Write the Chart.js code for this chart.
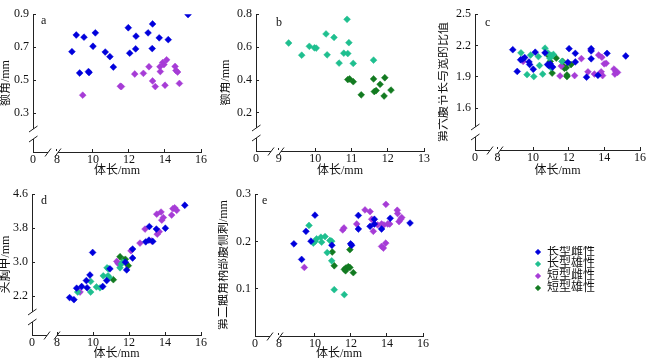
<!DOCTYPE html>
<html>
<head>
<meta charset="utf-8">
<script src="https://cdn.jsdelivr.net/npm/chart.js@4.4.0/dist/chart.umd.min.js"></script>
<style>
html, body { margin: 0; padding: 0; background: #fff; width: 650px; height: 363px; overflow: hidden; }
canvas { position: absolute; }
</style>
</head>
<body>
<canvas id="ca" width="215" height="180" style="left:0;top:0"></canvas>
<canvas id="cb" width="214" height="180" style="left:220px;top:0"></canvas>
<canvas id="cc" width="212" height="180" style="left:438px;top:0"></canvas>
<canvas id="cd" width="215" height="183" style="left:0;top:180px"></canvas>
<canvas id="ce" width="215" height="183" style="left:218px;top:180px"></canvas>
<canvas id="cl" width="100" height="117" style="left:535px;top:246px"></canvas>
<script>
// series names (legend)
const names = ['长型雌性', '长型雄性', '短型雌性', '短型雄性'];
const xTitle = '体长/mm';

// a: 额角 vs 体长
const aLongF = [[15.28,0.898],[9.07,0.774],[9.5,0.761],[10.13,0.787],[8.83,0.673],[10.0,0.706],[10.68,0.671],[10.94,0.643],[11.13,0.58],[9.26,0.544],[9.75,0.553],[9.78,0.547],[11.96,0.818],[12.39,0.767],[12.04,0.664],[12.37,0.69],[13.06,0.787],[13.31,0.841],[13.29,0.692],[13.68,0.757],[14.18,0.746]];
const aShortF = [[9.43,0.41],[11.52,0.464],[11.58,0.462],[12.32,0.538],[12.8,0.542],[13.11,0.582],[13.31,0.496],[13.46,0.462],[13.72,0.582],[13.74,0.553],[13.87,0.607],[13.94,0.595],[14.09,0.624],[14.0,0.47],[14.56,0.584],[14.61,0.559],[14.7,0.55],[14.8,0.481]];

// b: 额角 vs 体长 (males)
const bLongM = [[10.88,0.769],[9.27,0.625],[10.3,0.68],[10.52,0.659],[9.84,0.605],[9.98,0.596],[10.03,0.594],[10.93,0.627],[9.63,0.551],[10.33,0.553],[10.79,0.563],[10.9,0.561],[10.66,0.503],[11.05,0.501],[11.61,0.521]];
const bShortM = [[10.9,0.403],[10.95,0.407],[11.05,0.39],[11.27,0.31],[11.61,0.407],[11.92,0.414],[11.79,0.374],[11.63,0.33],[11.68,0.336],[12.09,0.339],[11.9,0.303]];

// c: 第六腹节长与宽的比值
const cLongF = [[8.86,2.16],[9.11,1.952],[9.3,2.064],[9.42,2.07],[9.53,2.085],[9.77,2.043],[9.81,2.018],[10.01,1.973],[10.12,2.136],[10.67,2.13],[10.81,2.018],[10.89,2.009],[10.96,2.025],[11.1,1.994],[12.02,2.17],[11.95,2.039],[12.37,2.125],[12.37,2.043],[13.0,1.897],[13.26,2.17],[13.26,2.148],[13.26,2.073],[13.64,1.915],[14.15,2.125],[15.2,2.1]];
const cLongM = [[9.32,2.13],[9.66,1.921],[9.86,2.109],[10.04,1.903],[10.3,2.094],[10.36,2.009],[10.54,1.927],[10.67,2.175],[10.83,2.13],[10.94,2.079],[11.03,2.103],[11.0,1.988],[11.14,2.115],[11.62,2.048]];
const cShortF = [[9.44,2.048],[11.58,2.003],[11.51,1.909],[12.33,1.912],[12.71,2.075],[13.08,1.948],[13.25,2.16],[13.44,1.927],[13.68,2.109],[13.86,2.088],[13.77,1.933],[13.82,1.948],[13.9,1.912],[13.99,2.025],[14.1,2.03],[14.54,1.975],[14.65,1.948],[14.74,1.943],[14.59,1.927]];
const cShortM = [[10.89,2.1],[10.96,2.048],[11.07,1.936],[11.3,2.079],[11.66,2.048],[11.73,1.997],[11.76,1.982],[11.86,1.988],[11.9,1.918],[11.9,1.903],[12.13,2.018]];

// d: 头胸甲
const dLongF = [[8.7,2.17],[8.94,2.12],[9.09,2.39],[9.37,2.43],[9.67,2.4],[9.63,2.57],[9.83,2.7],[9.98,3.23],[10.54,2.43],[10.76,2.57],[10.94,2.845],[11.87,2.82],[11.8,3.0],[12.2,3.1],[12.2,3.31],[12.93,3.48],[13.11,3.52],[13.32,3.49],[13.13,3.84],[13.52,3.78],[14.02,3.8],[15.1,4.34]];
const dLongM = [[9.15,2.3],[9.87,2.3],[9.87,2.55],[10.19,2.42],[10.39,2.4],[10.57,2.68],[10.78,2.87],[10.85,2.845],[10.83,2.68],[10.9,2.65],[11.5,2.87],[11.57,2.96],[11.65,3.0]];
const dShortF = [[9.28,2.3],[11.32,3.02],[11.4,2.97],[12.11,3.27],[12.61,3.45],[12.89,3.78],[13.26,3.5],[13.54,4.13],[13.78,4.18],[13.82,3.99],[13.91,4.05],[13.57,3.66],[13.68,3.72],[14.37,4.11],[14.44,4.26],[14.54,4.28],[14.65,4.22]];
const dShortM = [[11.13,2.59],[11.5,3.13],[11.72,3.055],[11.8,3.07],[11.96,2.92]];

// e: 第二触角柄部腹侧刺
const eLongF = [[8.83,0.195],[9.26,0.162],[9.5,0.2215],[9.78,0.2007],[10.0,0.2556],[10.94,0.192],[11.98,0.195],[12.04,0.192],[12.41,0.255],[12.41,0.2264],[13.06,0.232],[13.3,0.247],[13.3,0.237],[13.7,0.2264],[14.18,0.249],[15.28,0.239]];
const eLongM = [[9.67,0.234],[9.91,0.1965],[10.0,0.2],[10.09,0.2056],[10.33,0.209],[10.56,0.2104],[10.37,0.1986],[10.83,0.202],[10.93,0.2006],[10.68,0.1764],[10.93,0.159],[11.07,0.098],[11.63,0.0875]];
const eShortF = [[9.41,0.145],[11.54,0.2244],[11.61,0.2285],[12.32,0.237],[12.78,0.2667],[13.06,0.2632],[13.15,0.247],[13.24,0.2215],[13.48,0.235],[13.7,0.237],[13.83,0.235],[14.04,0.237],[14.15,0.237],[13.94,0.2785],[13.7,0.1896],[13.8,0.186],[13.93,0.1965],[14.57,0.266],[14.59,0.259],[14.67,0.242],[14.76,0.247],[14.82,0.2506]];
const eShortM = [[10.96,0.1777],[11.07,0.1486],[11.63,0.141],[11.72,0.144],[11.85,0.1465],[11.94,0.145],[11.7,0.138],[11.94,0.1827],[12.13,0.134]];

// axis ticks
const xTicks = [8, 10, 12, 14, 16];
const xTicksB = [9, 10, 11, 12, 13];
const yTicksA = [0.3, 0.5, 0.7, 0.9];
const yTicksB = [0.2, 0.4, 0.6, 0.8];
const yTicksC = [1.6, 1.9, 2.2, 2.5];
const yTicksD = [2.2, 3.0, 3.8, 4.6];
const yTicksE = [0.1, 0.2, 0.3];

const FONT = "'Liberation Serif', 'Noto Sans CJK SC', serif";
const colors = ['#0000dc', '#1fbf8f', '#a63cd6', '#127a20'];
const AXIS = '#222';

function series(i, pts) {
    return {
        label: names[i],
        data: pts.map(p => ({ x: p[0], y: p[1] })),
        backgroundColor: colors[i],
        borderColor: colors[i],
        borderWidth: 1,
        pointStyle: 'rectRot',
        pointRadius: 3.4,
        pointBorderWidth: 0.5
    };
}

// letters and axis-break marks
const decor = {
    id: 'decor',
    afterDraw(chart, args, o) {
        if (!o.letter) return;
        const { ctx, chartArea } = chart;
        const { left, top, bottom } = chartArea;
        ctx.save();
        ctx.fillStyle = '#111';
        ctx.font = '12px ' + FONT;
        ctx.textBaseline = 'middle';
        ctx.textAlign = 'left';
        ctx.fillText(o.letter, left + o.lx, top + o.ly);

        ctx.strokeStyle = AXIS;
        ctx.lineWidth = 1;
        const x1 = left + 15, x2 = left + 25;
        ctx.fillStyle = '#fff';
        ctx.fillRect(x1, bottom - 1, x2 - x1, 3);
        [x1, x2].forEach(x => {
            ctx.beginPath();
            ctx.moveTo(x - 3, bottom + 4.5);
            ctx.lineTo(x + 3, bottom - 3.5);
            ctx.stroke();
        });
        if (o.yBreak) {
            const y1 = bottom - 23, y2 = bottom - 13;
            ctx.fillRect(left - 1, y1, 3, y2 - y1);
            [y1, y2].forEach(y => {
                ctx.beginPath();
                ctx.moveTo(left - 4, y + 3);
                ctx.lineTo(left + 4.5, y - 3);
                ctx.stroke();
            });
        }
        ctx.restore();
    }
};

function panel(id, c) {
    const xt = [c.xMin].concat(c.xTicks);
    new Chart(document.getElementById(id), {
        type: 'scatter',
        data: { datasets: c.datasets },
        options: {
            responsive: false,
            animation: false,
            layout: { padding: c.pad },
            plugins: {
                legend: { display: false },
                tooltip: { enabled: false },
                decor: { letter: c.letter, lx: c.lx, ly: c.ly, yBreak: c.yBreak }
            },
            scales: {
                x: {
                    type: 'linear',
                    min: c.xMin,
                    max: c.xMax,
                    afterBuildTicks: s => { s.ticks = xt.map(v => ({ value: v })); },
                    afterFit: s => { s.height = c.xH; },
                    ticks: {
                        autoSkip: false, maxRotation: 0, padding: 4, color: '#111',
                        font: { family: FONT, size: 12 },
                        callback: v => Math.abs(v - c.xMin) < 1e-9 ? '0' : String(v)
                    },
                    grid: { drawOnChartArea: false, tickLength: -3, color: AXIS },
                    border: { color: AXIS, width: 1 },
                    title: { display: true, text: xTitle, color: '#111', font: { family: FONT, size: 12 }, padding: { top: 0, bottom: 2 } }
                },
                y: {
                    type: 'linear',
                    min: c.yMin,
                    max: c.yMax,
                    afterBuildTicks: s => { s.ticks = c.yTicks.map(v => ({ value: v })); },
                    afterFit: s => { s.width = c.yW; },
                    ticks: {
                        autoSkip: false, padding: 7, color: '#111',
                        font: { family: FONT, size: 12 },
                        callback: v => v.toFixed(1)
                    },
                    grid: { drawOnChartArea: false, tickLength: -3, color: AXIS },
                    border: { color: AXIS, width: 1 },
                    title: { display: true, text: c.yTitle, color: '#111', font: { family: FONT, size: 12, lineHeight: 1 }, padding: { top: 0, bottom: 0 } }
                }
            }
        },
        plugins: [decor]
    });
}

panel('ca', {
    letter: 'a', lx: 8, ly: 7, yBreak: true,
    datasets: [series(0, aLongF), series(2, aShortF)],
    xMin: 6.667, xMax: 16, xTicks: xTicks,
    yMin: 0.066, yMax: 0.9, yTicks: yTicksA, yTitle: '额角/mm',
    pad: { left: 0, top: 6, right: 14, bottom: 0 }, yW: 33, xH: 28
});

panel('cb', {
    letter: 'b', lx: 20, ly: 9, yBreak: true,
    datasets: [series(1, bLongM), series(3, bShortM)],
    xMin: 8.37, xMax: 13, xTicks: xTicksB,
    yMin: -0.031, yMax: 0.8, yTicks: yTicksB, yTitle: '额角/mm',
    pad: { left: 0, top: 7, right: 10, bottom: 0 }, yW: 36, xH: 29
});

panel('cc', {
    letter: 'c', lx: 10, ly: 9, yBreak: true,
    datasets: [series(0, cLongF), series(1, cLongM), series(2, cShortF), series(3, cShortM)],
    xMin: 6.74, xMax: 16, xTicks: xTicks,
    yMin: 1.2, yMax: 2.5, yTicks: yTicksC, yTitle: '第六腹节长与宽的比值',
    pad: { left: 0, top: 7, right: 6, bottom: 0 }, yW: 37, xH: 30
});

panel('cd', {
    letter: 'd', lx: 9, ly: 7, yBreak: true,
    datasets: [series(0, dLongF), series(1, dLongM), series(2, dShortF), series(3, dShortM)],
    xMin: 6.61, xMax: 16, xTicks: xTicks,
    yMin: 1.29, yMax: 4.6, yTicks: yTicksD, yTitle: '头胸甲/mm',
    pad: { left: 0, top: 13, right: 14, bottom: 0 }, yW: 32, xH: 28
});

panel('ce', {
    letter: 'e', lx: 7, ly: 7, yBreak: false,
    datasets: [series(0, eLongF), series(1, eLongM), series(2, eShortF), series(3, eShortM)],
    xMin: 6.67, xMax: 16, xTicks: xTicks,
    yMin: 0, yMax: 0.3, yTicks: yTicksE, yTitle: '第二触角柄部腹侧刺/mm',
    pad: { left: 0, top: 13, right: 10, bottom: 0 }, yW: 37, xH: 27
});

// shared legend
new Chart(document.getElementById('cl'), {
    type: 'scatter',
    data: { datasets: names.map((n, i) => series(i, [])) },
    options: {
        responsive: false,
        animation: false,
        layout: { padding: 0 },
        scales: { x: { display: false }, y: { display: false } },
        plugins: {
            tooltip: { enabled: false },
            legend: {
                position: 'top',
                align: 'start',
                labels: {
                    usePointStyle: true, pointStyle: 'rectRot',
                    boxWidth: 6, boxHeight: 4, padding: 0,
                    color: '#111', font: { family: FONT, size: 12 }
                }
            }
        }
    }
});
</script>
</body>
</html>
